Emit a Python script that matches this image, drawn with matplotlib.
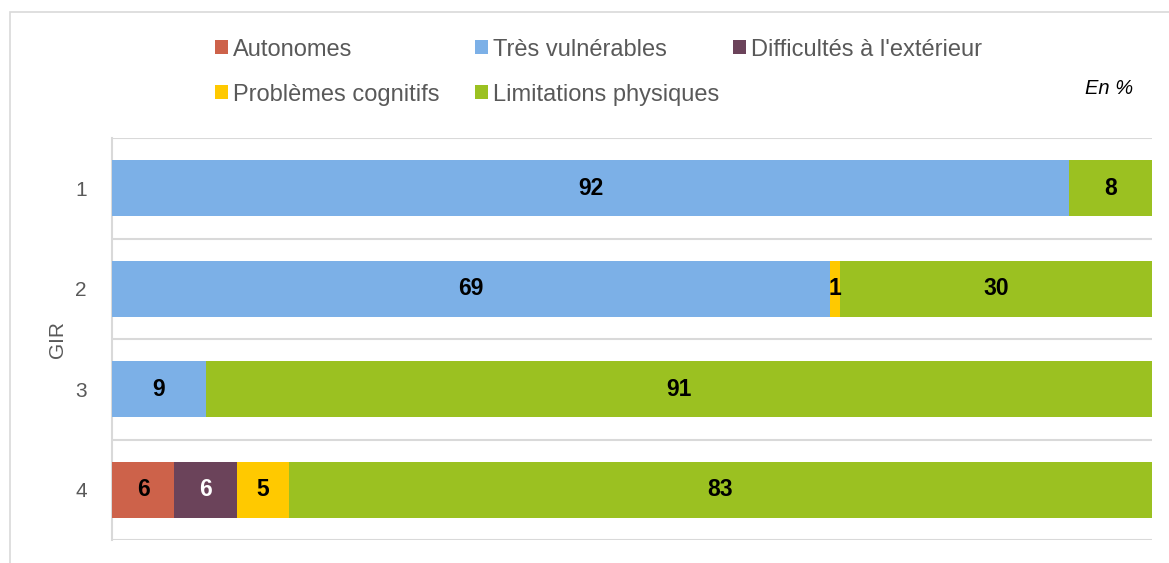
import matplotlib
matplotlib.use("Agg")
import matplotlib.pyplot as plt
from matplotlib.patches import Rectangle
import numpy as np

# data (percent of each GIR group)
gir = ["1", "2", "3", "4"]
series = ["Autonomes", "Très vulnérables", "Difficultés à l'extérieur",
          "Problèmes cognitifs", "Limitations physiques"]
autonomes = [0, 0, 0, 6]
tres_vuln = [92, 69, 9, 0]
difficultes = [0, 0, 0, 6]
cognitifs = [0, 1, 0, 5]
physiques = [8, 30, 91, 83]

COLORS = {"Autonomes": "#CD624A", "Très vulnérables": "#7CB0E7",
          "Difficultés à l'extérieur": "#6B435A", "Problèmes cognitifs": "#FFC900",
          "Limitations physiques": "#9BC121"}
LBL_COLOR = {"Difficultés à l'extérieur": "white"}
GRAY, GRID = "#595959", "#D9D9D9"

plt.rcParams.update({"font.family": ["Liberation Sans", "DejaVu Sans"]})
fig = plt.figure(figsize=(11.69, 5.63), dpi=100)
W, H = 1169, 563
ax = fig.add_axes([112 / W, 1 - 540 / H, 1040 / W, 402 / H])

# outer frame of the chart area
fig.patches.append(Rectangle((10 / W, -0.1), 1.2, 1 - 12 / H + 0.1, transform=fig.transFigure,
                             fill=False, edgecolor=GRID, lw=1.2))

y = np.arange(len(gir))
vals = [autonomes, tres_vuln, difficultes, cognitifs, physiques]
left = np.zeros(len(gir))
for name, v in zip(series, vals):
    v = np.array(v, dtype=float)
    ax.barh(y, v, left=left, height=0.56, color=COLORS[name], zorder=3)
    for yi, (l, w) in enumerate(zip(left, v)):
        if w > 0:
            ax.text(l + w / 2, yi, f"{w:.0f}", ha="center", va="center", fontsize=16.5,
                    fontweight="bold", color=LBL_COLOR.get(name, "black"), zorder=4)
    left += v

ax.set_xlim(0, 100)
ax.set_ylim(3.5, -0.5)
ax.set_xticks([])
ax.set_yticks(y)
ax.set_yticklabels(gir, fontsize=15, color=GRAY)
ax.tick_params(axis="y", length=0, pad=18)
for b in np.arange(-0.5, 4.0, 1.0):
    ax.axhline(b, color=GRID, lw=1.5, zorder=1)
for sp in ("top", "right", "bottom"):
    ax.spines[sp].set_visible(False)
ax.spines["left"].set_color(GRID)
ax.spines["left"].set_linewidth(1.5)
ax.set_ylabel("GIR", fontsize=15, color=GRAY, labelpad=6)

# legend, laid out like the source: 3 equal columns, 2 rows
leg_x = [215, 475, 733]
leg_y = [47, 92]
for i, name in enumerate(series):
    r, c = divmod(i, 3)
    x0, y0 = leg_x[c], leg_y[r]
    fig.patches.append(Rectangle((x0 / W, 1 - (y0 + 7) / H), 13 / W, 14 / H,
                                 transform=fig.transFigure, facecolor=COLORS[name],
                                 edgecolor="none"))
    fig.text((x0 + 18) / W, 1 - y0 / H, name, ha="left", va="center_baseline",
             fontsize=17, color=GRAY)

fig.text(1133 / W, 1 - 89 / H, "En %", ha="right", va="center", fontsize=14.5, style="italic")

fig.savefig("out.png", dpi=100, facecolor="white")
